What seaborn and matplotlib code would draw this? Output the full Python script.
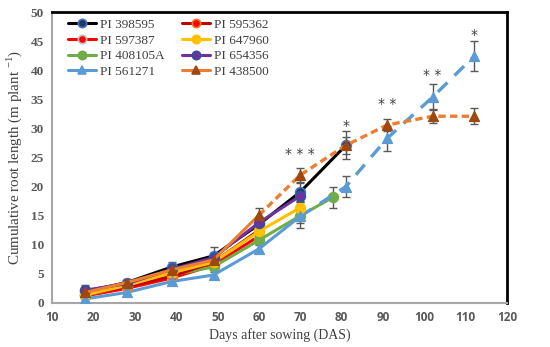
import numpy as np
import pandas as pd
import matplotlib
matplotlib.use("Agg")
import matplotlib.pyplot as plt
import seaborn as sns

# data
days = [18, 28, 39, 49, 60, 70, 81, 91, 102, 112]
days_green = [18, 28, 39, 49, 60, 70, 78]

pi_398595 = [2.0, 3.5, 6.2, 8.1, 13.5, 19.1, 27.1]
pi_398595_err = [1.0, 0.6, 0.8, 1.5, 1.2, 1.5, 2.4]
pi_595362 = [1.5, 2.8, 4.6, 7.0, 12.5]
pi_595362_err = [0.5, 0.5, 0.6, 0.8, 1.0]
pi_597387 = [1.2, 2.5, 4.3, 6.5, 11.5]
pi_597387_err = [0.4, 0.4, 0.5, 0.6, 0.8]
pi_647960 = [1.4, 3.0, 5.2, 7.0, 12.3, 16.4]
pi_647960_err = [0.4, 0.4, 0.5, 0.6, 0.9, 1.0]
pi_408105a = [1.3, 3.0, 4.8, 6.2, 10.8, 15.0, 18.2]
pi_408105a_err = [0.4, 0.4, 0.5, 0.6, 0.9, 1.2, 1.8]
pi_654356 = [2.2, 3.3, 5.8, 7.8, 13.8, 18.4]
pi_654356_err = [0.6, 0.5, 0.6, 0.8, 1.0, 1.1]
pi_561271 = [0.7, 1.8, 3.7, 4.8, 9.3, 14.9, 20.0, 28.3, 35.4, 42.4]
pi_561271_err = [0.4, 0.4, 0.5, 0.5, 0.8, 2.0, 1.8, 2.2, 2.3, 2.6]
pi_438500 = [1.8, 3.5, 5.7, 7.4, 15.1, 22.0, 27.1, 30.6, 32.1, 32.1]
pi_438500_err = [0.8, 0.5, 0.7, 0.9, 1.3, 1.2, 1.5, 1.0, 1.2, 1.35]

stars = ["* * *", "*", "* *", "* *", "*"]
star_days = [70, 81, 91, 102, 112]
star_y = [25.6, 30.4, 34.2, 39.2, 46.0]

# name, x, y, err, line colour, marker, face, edge, dash from index
series = [
    ("PI 398595", days, pi_398595, pi_398595_err, "#000000", "o", "#1F3864", "#4472C4", None),
    ("PI 597387", days, pi_597387, pi_597387_err, "#FF0000", "o", "#FF0000", "#BFBFBF", None),
    ("PI 408105A", days_green, pi_408105a, pi_408105a_err, "#70AD47", "o", "#70AD47", "#70AD47", None),
    ("PI 561271", days, pi_561271, pi_561271_err, "#5B9BD5", "^", "#5B9BD5", "#5B9BD5", 5),
    ("PI 595362", days, pi_595362, pi_595362_err, "#C00000", "o", "#FF0000", "#ED7D31", None),
    ("PI 647960", days, pi_647960, pi_647960_err, "#FFC000", "o", "#FFC000", "#FFC000", None),
    ("PI 654356", days, pi_654356, pi_654356_err, "#7030A0", "o", "#7030A0", "#2F5597", None),
    ("PI 438500", days, pi_438500, pi_438500_err, "#ED7D31", "^", "#9E480E", "#9E480E", 4),
]

sns.set_theme(style="white")
plt.rcParams["font.family"] = ["Liberation Serif", "DejaVu Sans"]
plt.rcParams["mathtext.fontset"] = "custom"
plt.rcParams["mathtext.rm"] = "Liberation Serif"

fig = plt.figure(figsize=(5.5, 3.47), dpi=100)
ax = fig.add_axes([0.095, 0.127, 0.827, 0.838])

handles = []
for name, xs, ys, err, lc, mk, fc, ec, dash_from in series:
    n = len(ys)
    x = np.array(xs[:n])
    df = pd.DataFrame({"day": x, "val": ys})
    ax.errorbar(x, ys, yerr=err, fmt="none", ecolor="#595959", elinewidth=1.0,
                capsize=3, capthick=1.0, zorder=2)
    if dash_from is None:
        sns.lineplot(data=df, x="day", y="val", ax=ax, color=lc, lw=2.2,
                     marker=mk, markersize=7, markerfacecolor=fc,
                     markeredgecolor=ec, markeredgewidth=1.2, zorder=3)
    else:
        solid = df.iloc[:dash_from + 1]
        dashed = df.iloc[dash_from:]
        sns.lineplot(data=solid, x="day", y="val", ax=ax, color=lc, lw=2.2, zorder=3)
        if name == "PI 561271":
            dashes = (4, 3)
        else:
            dashes = (2.2, 1.3)
        sns.lineplot(data=dashed, x="day", y="val", ax=ax, color=lc, lw=2.4,
                     linestyle=(0, dashes), zorder=3)
        sns.scatterplot(data=df, x="day", y="val", ax=ax, marker=mk, s=50,
                        color=fc, edgecolor=ec, linewidth=1.0, zorder=4)
    h = plt.Line2D([], [], color=lc, lw=2.2, marker=mk, markersize=6,
                   markerfacecolor=fc, markeredgecolor=ec, markeredgewidth=1.2)
    handles.append((h, name))

for s, xd, yd in zip(stars, star_days, star_y):
    ax.text(xd, yd, s, ha="center", va="center", fontsize=10, color="#404040",
            family="DejaVu Sans")

ax.set_xlim(10, 120)
ax.set_ylim(0, 50)
ax.set_xticks(range(10, 121, 10))
ax.set_yticks(range(0, 51, 5))
ax.tick_params(axis="both", length=0, pad=6)
for lab in ax.get_xticklabels():
    lab.set_family("Open Sans")
    lab.set_fontweight("bold")
    lab.set_fontsize(8.5)
    lab.set_color("#595959")
for lab in ax.get_yticklabels():
    lab.set_family("Liberation Serif")
    lab.set_fontweight("bold")
    lab.set_fontsize(9.5)
    lab.set_color("#595959")

ax.set_xlabel("Days after sowing (DAS)", fontsize=10, color="#404040", labelpad=3)
ax.set_ylabel("Cumulative root length (m plant $^{-1}$)", fontsize=10.8,
              color="#404040", labelpad=5)

ax.spines["left"].set_color("#A6A6A6")
ax.spines["bottom"].set_color("#A6A6A6")
ax.spines["left"].set_linewidth(1.5)
ax.spines["bottom"].set_linewidth(1.5)
ax.spines["top"].set_color("#000000")
ax.spines["right"].set_color("#000000")
ax.spines["top"].set_linewidth(2.0)
ax.spines["right"].set_linewidth(2.0)
ax.grid(False)

leg = ax.legend([h for h, _ in handles], [n for _, n in handles], ncol=2,
                loc="upper left", bbox_to_anchor=(0.02, 1.0), frameon=False,
                fontsize=9.5, handlelength=2.1, handletextpad=0.35,
                columnspacing=1.3, labelspacing=0.26, borderaxespad=0.1)
for t in leg.get_texts():
    t.set_color("#404040")

fig.savefig("out.png", dpi=100)
